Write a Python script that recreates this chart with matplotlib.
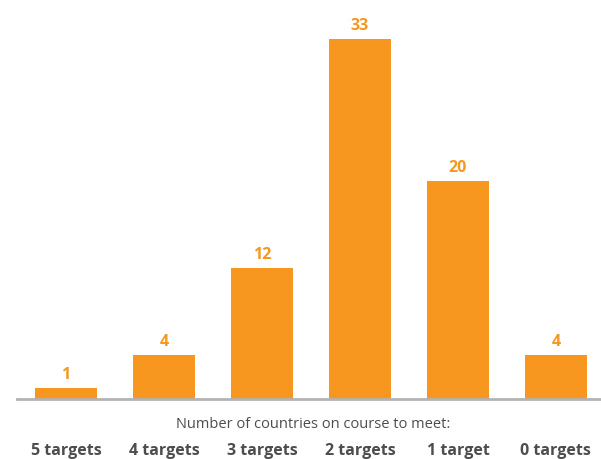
import matplotlib
matplotlib.use("Agg")
import matplotlib.pyplot as plt

categories = ["5 targets", "4 targets", "3 targets", "2 targets", "1 target", "0 targets"]
values = [1, 4, 12, 33, 20, 4]
xlabel = "Number of countries on course to meet:"

orange = "#F7971F"
textc = "#4D4D4F"

plt.rcParams['font.family'] = ['Open Sans', 'DejaVu Sans']

fig = plt.figure(figsize=(6.01, 4.59), dpi=100)
W, H = 601, 459
ax = fig.add_axes([17 / W, (H - 399) / H, (W - 17) / W, 399 / H])

x = list(range(len(values)))
ax.bar(x, values, width=0.633, color=orange, zorder=2)
for xi, v in zip(x, values):
    ax.text(xi, v + 0.45, str(v), ha="center", va="bottom", color=orange,
            fontsize=11.5, fontweight="bold")

ax.set_xlim(-0.5, 5.46)
ax.set_ylim(0, 36.55)
for s in ["top", "right", "left"]:
    ax.spines[s].set_visible(False)
ax.spines["bottom"].set_color("#B3B3B3")
ax.spines["bottom"].set_linewidth(2)
ax.set_yticks([])
ax.set_xticks(x)
ax.set_xticklabels(categories, fontsize=11.5, fontweight="bold", color=textc)
ax.tick_params(axis="x", length=0, pad=32)
fig.text(313 / W, 1 - 424 / H, xlabel, ha="center", va="center", fontsize=10.5, color=textc)

fig.savefig("out.png", dpi=100)
